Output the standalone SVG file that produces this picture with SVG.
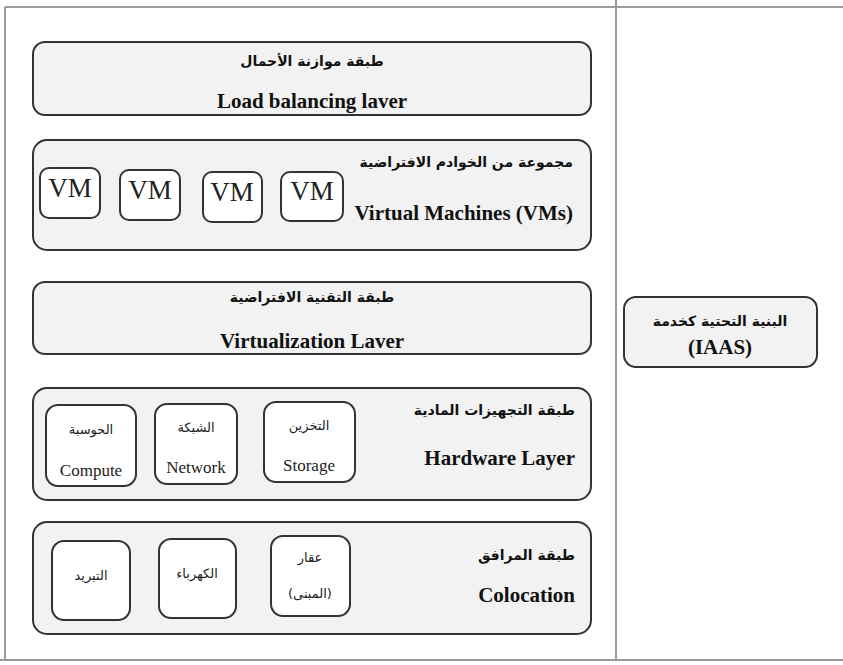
<svg xmlns="http://www.w3.org/2000/svg" width="843" height="665" viewBox="0 0 843 665">
<style>
.frame{stroke:#9a9a9a;stroke-width:2;fill:none}
.layer{fill:#f2f2f2;stroke:#333;stroke-width:2}
.sub{fill:#ffffff;stroke:#333;stroke-width:2}
.ar{font-family:"DejaVu Sans",sans-serif;font-weight:bold;font-size:14px;fill:#111}
.arS{font-family:"DejaVu Sans",sans-serif;font-size:13px;fill:#222}
.en{font-family:"Liberation Serif",serif;font-weight:bold;font-size:21px;fill:#111}
.enS{font-family:"Liberation Serif",serif;font-size:17px;fill:#222}
.vm{font-family:"Liberation Serif",serif;font-size:27px;fill:#222}
</style>
<rect width="843" height="665" fill="#ffffff"/>
<g id="frame">
<line class="frame" x1="5" y1="7" x2="843" y2="7"/>
<line class="frame" x1="5" y1="7" x2="5" y2="660"/>
<line class="frame" x1="616" y1="0" x2="616" y2="660"/>
<line class="frame" x1="0" y1="660" x2="843" y2="660"/>
</g>
<g id="load-balancing">
<rect class="layer" x="33" y="42" width="558" height="73" rx="12"/>
<text class="ar" x="312" y="66" text-anchor="middle" direction="rtl">طبقة موازنة الأحمال</text>
<text class="en" x="312" y="108" text-anchor="middle">Load balancing laver</text>
</g>
<g id="vms">
<rect class="layer" x="33" y="140" width="558" height="110" rx="14"/>
<text class="ar" x="573" y="167" text-anchor="end">مجموعة من الخوادم الافتراضية</text>
<text class="en" x="573" y="220" text-anchor="end">Virtual Machines (VMs)</text>
<g id="vm1"><rect class="sub" x="40" y="168" width="60" height="50" rx="9"/><text class="vm" x="70" y="197" text-anchor="middle">VM</text></g>
<g id="vm2"><rect class="sub" x="120" y="170" width="60" height="50" rx="9"/><text class="vm" x="150" y="199" text-anchor="middle">VM</text></g>
<g id="vm3"><rect class="sub" x="203" y="172" width="59" height="50" rx="9"/><text class="vm" x="232" y="201" text-anchor="middle">VM</text></g>
<g id="vm4"><rect class="sub" x="281" y="172" width="62" height="49" rx="9"/><text class="vm" x="312" y="200" text-anchor="middle">VM</text></g>
</g>
<g id="virtualization">
<rect class="layer" x="33" y="282" width="558" height="72" rx="12"/>
<text class="ar" x="312" y="302" text-anchor="middle" direction="rtl">طبقة التقنية الافتراضية</text>
<text class="en" x="312" y="348" text-anchor="middle">Virtualization Laver</text>
</g>
<g id="hardware">
<rect class="layer" x="33" y="388" width="558" height="112" rx="14"/>
<text class="ar" x="575" y="415" text-anchor="end">طبقة التجهيزات المادية</text>
<text class="en" x="575" y="465" text-anchor="end">Hardware Layer</text>
<g id="compute"><rect class="sub" x="46" y="405" width="90" height="81" rx="12"/><text class="arS" x="91" y="434" text-anchor="middle" direction="rtl">الحوسبة</text><text class="enS" x="91" y="476" text-anchor="middle">Compute</text></g>
<g id="network"><rect class="sub" x="155" y="404" width="82" height="80" rx="12"/><text class="arS" x="196" y="432" text-anchor="middle" direction="rtl">الشبكة</text><text class="enS" x="196" y="473" text-anchor="middle">Network</text></g>
<g id="storage"><rect class="sub" x="264" y="402" width="91" height="80" rx="12"/><text class="arS" x="309" y="430" text-anchor="middle" direction="rtl">التخزين</text><text class="enS" x="309" y="471" text-anchor="middle">Storage</text></g>
</g>
<g id="colocation">
<rect class="layer" x="33" y="522" width="558" height="112" rx="14"/>
<text class="ar" x="575" y="560" text-anchor="end">طبقة المرافق</text>
<text class="en" x="575" y="602" text-anchor="end">Colocation</text>
<g id="cooling"><rect class="sub" x="52" y="541" width="78" height="79" rx="12"/><text class="arS" x="91" y="580" text-anchor="middle" direction="rtl">التبريد</text></g>
<g id="power"><rect class="sub" x="159" y="539" width="77" height="79" rx="12"/><text class="arS" x="197" y="578" text-anchor="middle" direction="rtl">الكهرباء</text></g>
<g id="realestate"><rect class="sub" x="271" y="536" width="79" height="80" rx="12"/><text class="arS" x="310" y="562" text-anchor="middle" direction="rtl">عقار</text><text class="arS" x="310" y="598" text-anchor="middle" direction="rtl">(المبنى)</text></g>
</g>
<g id="iaas">
<rect class="layer" x="624" y="297" width="193" height="70" rx="12"/>
<text class="ar" x="720" y="326" text-anchor="middle" direction="rtl">البنية التحتية كخدمة</text>
<text class="en" x="720" y="354" text-anchor="middle">(IAAS)</text>
</g>
<g id="connectors"></g>
</svg>
